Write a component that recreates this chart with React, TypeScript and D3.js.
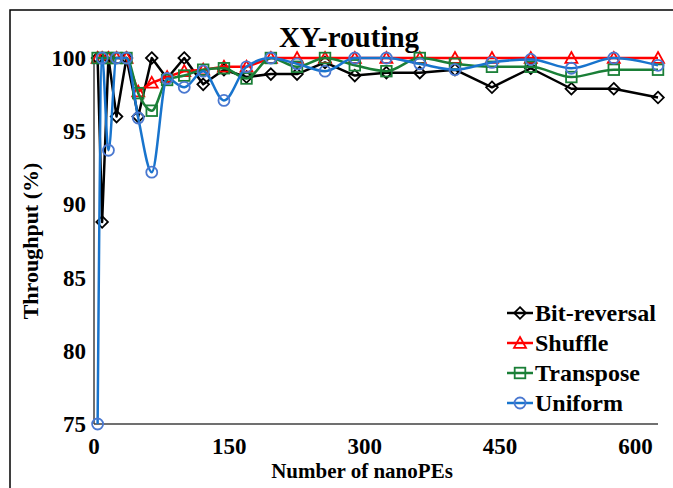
import React from "react";
import * as d3 from "d3";

const nanoPEs = [4, 9, 16, 25, 36, 49, 64, 81, 100, 121, 144, 169, 196, 225, 256, 289, 324, 361, 400, 441, 484, 529, 576, 625];
const bitReversal = [100, 88.8, 100, 96.0, 100, 96.0, 100, 98.6, 100, 98.2, 99.2, 98.7, 98.9, 98.9, 99.7, 98.8, 99.0, 99.0, 99.2, 98.0, 99.3, 97.9, 97.9, 97.3];
const shuffle = [100, 100, 100, 100, 100, 97.7, 98.3, 98.7, 99.1, 99.2, 99.4, 99.4, 100, 100, 100, 100, 100, 100, 100, 100, 100, 100, 100, 100];
const transpose = [100, 100, 100, 100, 100, 97.6, 96.4, 98.5, 98.8, 99.2, 99.3, 98.6, 100, 99.4, 100, 99.5, 99.1, 100, 99.6, 99.4, 99.4, 98.7, 99.2, 99.2];
const uniform = [75, 100, 93.7, 100, 100, 95.9, 92.2, 98.6, 98.0, 99.1, 97.1, 99.4, 100, 99.6, 99.1, 100, 100, 99.6, 99.2, 99.7, 99.9, 99.3, 100, 99.5];
const xTicks = [0, 150, 300, 450, 600];
const yTicks = [75, 80, 85, 90, 95, 100];
const seriesNames = ["Bit-reversal", "Shuffle", "Transpose", "Uniform"];

const W = 673, H = 488;
const FONT = "'Liberation Serif', 'Times New Roman', serif";

type Series = { name: string; values: number[]; color: string; mColor: string; marker: string; smooth: boolean };

function Marker({ type, x, y, color }: { type: string; x: number; y: number; color: string }) {
  const sw = 1.8;
  if (type === "diamond") {
    const s = 5.8;
    return <path d={`M${x},${y - s}L${x + s},${y}L${x},${y + s}L${x - s},${y}Z`} fill="none" stroke={color} strokeWidth={sw} />;
  }
  if (type === "triangle") {
    const s = 6;
    return <path d={`M${x},${y - s}L${x + s},${y + s * 0.8}L${x - s},${y + s * 0.8}Z`} fill="none" stroke={color} strokeWidth={sw} />;
  }
  if (type === "square") {
    const s = 5.3;
    return <rect x={x - s} y={y - s} width={2 * s} height={2 * s} fill="none" stroke={color} strokeWidth={sw} />;
  }
  return <circle cx={x} cy={y} r={5.5} fill="none" stroke={color} strokeWidth={sw} />;
}

export default function App() {
  const x = d3.scaleLinear().domain([0, 625]).range([94, 658]);
  const y = d3.scaleLinear().domain([75, 100]).range([424, 58]);

  const series: Series[] = [
    { name: seriesNames[0], values: bitReversal, color: "#000000", mColor: "#000000", marker: "diamond", smooth: false },
    { name: seriesNames[1], values: shuffle, color: "#ff0000", mColor: "#ff0000", marker: "triangle", smooth: false },
    { name: seriesNames[2], values: transpose, color: "#1a7f37", mColor: "#1a7f37", marker: "square", smooth: true },
    { name: seriesNames[3], values: uniform, color: "#1874cd", mColor: "#4a78d0", marker: "circle", smooth: true },
  ];

  return (
    <svg width={W} height={H} style={{ position: "absolute", left: 0, top: 0, background: "#fff" }}>
      <rect x={10} y={10} width={700} height={520} fill="#fff" stroke="#000" strokeWidth={1.5} />
      <text x={349} y={47} textAnchor="middle" fontFamily={FONT} fontWeight="bold" fontSize={29}>XY-routing</text>

      {/* axes */}
      <line x1={94} y1={58} x2={94} y2={424} stroke="#404040" strokeWidth={1.5} />
      <line x1={94} y1={424} x2={658} y2={424} stroke="#404040" strokeWidth={1.5} />

      {yTicks.map((t) => (
        <text key={"y" + t} x={86} y={y(t)} dy="0.35em" textAnchor="end" fontFamily={FONT} fontWeight="bold" fontSize={23}>{t}</text>
      ))}
      {xTicks.map((t) => (
        <text key={"x" + t} x={x(t)} y={454} textAnchor="middle" fontFamily={FONT} fontWeight="bold" fontSize={23}>{t}</text>
      ))}
      <text x={362} y={478} textAnchor="middle" fontFamily={FONT} fontWeight="bold" fontSize={21}>Number of nanoPEs</text>
      <text transform={`translate(38,241) rotate(-90)`} textAnchor="middle" fontFamily={FONT} fontWeight="bold" fontSize={22}>Throughput (%)</text>

      {series.map((s) => {
        const line = d3.line<number>()
          .x((_, i) => x(nanoPEs[i]))
          .y((v) => y(v))
          .curve(s.smooth ? d3.curveMonotoneX : d3.curveLinear);
        return (
          <g key={s.name}>
            <path d={line(s.values) || ""} fill="none" stroke={s.color} strokeWidth={2.5} strokeLinejoin="round" />
            {s.values.map((v, i) => (
              <Marker key={i} type={s.marker} x={x(nanoPEs[i])} y={y(v)} color={s.mColor} />
            ))}
          </g>
        );
      })}

      {/* legend */}
      {series.map((s, i) => {
        const ly = 313 + i * 30;
        return (
          <g key={"lg" + s.name}>
            <line x1={507} x2={533} y1={ly} y2={ly} stroke={s.color} strokeWidth={2.5} />
            <Marker type={s.marker} x={520} y={ly} color={s.mColor} />
            <text x={535} y={ly} dy="0.35em" fontFamily={FONT} fontWeight="bold" fontSize={24}>{s.name}</text>
          </g>
        );
      })}
    </svg>
  );
}
